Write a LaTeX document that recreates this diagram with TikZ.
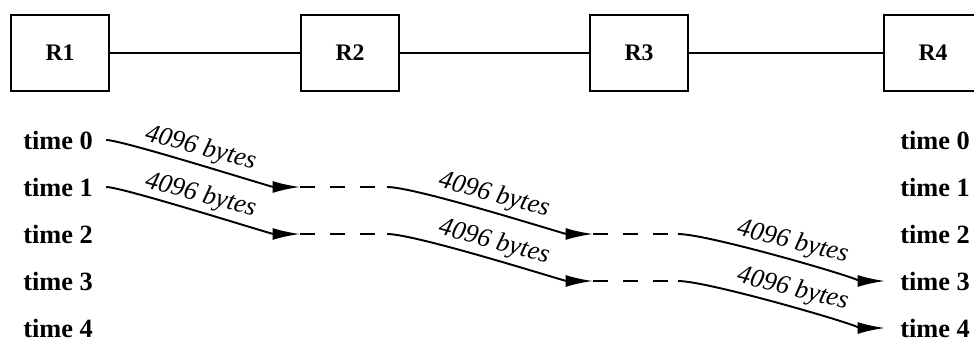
\documentclass[tikz,border=0pt]{standalone}
\usepackage{fontspec}
\setmainfont{Liberation Serif}
\usetikzlibrary{positioning, arrows.meta}

\begin{document}
\begin{tikzpicture}[x=0.02cm, y=-0.02cm,
    router/.style={draw, line width=1.4pt, minimum width=1.96cm, minimum height=1.52cm,
      font=\fontsize{13.5}{16}\selectfont\bfseries},
    tlabel/.style={anchor=west, inner sep=0pt, font=\fontsize{15}{18}\selectfont\bfseries},
    pkt/.style={-{Latex[length=5.5mm, width=2.4mm]}, line width=1.1pt},
    wait/.style={line width=1.1pt, dash pattern=on 0.3cm off 0.3cm},
    bytes/.style={font=\fontsize{15}{18}\selectfont\itshape, sloped, above, inner sep=1.5pt}]
    \clip (0,0) rectangle (974,347);
    \node[router] (R1) at (60,53) {R1};
    \node[router] (R2) at (350,53) {R2};
    \node[router] (R3) at (639,53) {R3};
    \node[router] (R4) at (933,53) {R4};
    \draw[line width=1.1pt] (R1) -- (R2) -- (R3) -- (R4);
    \foreach \i/\y in {0/140, 1/187, 2/234, 3/281, 4/328} {
      \node[tlabel] (l\i) at (23,\y) {time \i};
      \node[tlabel] (r\i) at (900,\y) {time \i};
    }
    \foreach \i in {0,1} {
      \pgfmathtruncatemacro\j{\i+1}
      \pgfmathtruncatemacro\k{\i+2}
      \pgfmathtruncatemacro\m{\i+3}
      \coordinate (a\i) at (300,140+47*\j);
      \coordinate (b\i) at (387,140+47*\j);
      \coordinate (c\i) at (593,140+47*\k);
      \coordinate (d\i) at (678,140+47*\k);
      \draw[pkt, shorten <=0.26cm] (l\i.east) to[out=0, in=180, looseness=0.35]
        node[bytes] {4096 bytes} (a\i);
      \draw[wait] (a\i) -- (b\i);
      \draw[pkt] (b\i) to[out=0, in=180, looseness=0.35]
        node[bytes] {4096 bytes} (c\i);
      \draw[wait] (c\i) -- (d\i);
      \draw[pkt, shorten >=0.3cm] (d\i) to[out=0, in=180, looseness=0.35]
        node[bytes] {4096 bytes} (r\m.west);
    }
  \end{tikzpicture}
\end{document}
